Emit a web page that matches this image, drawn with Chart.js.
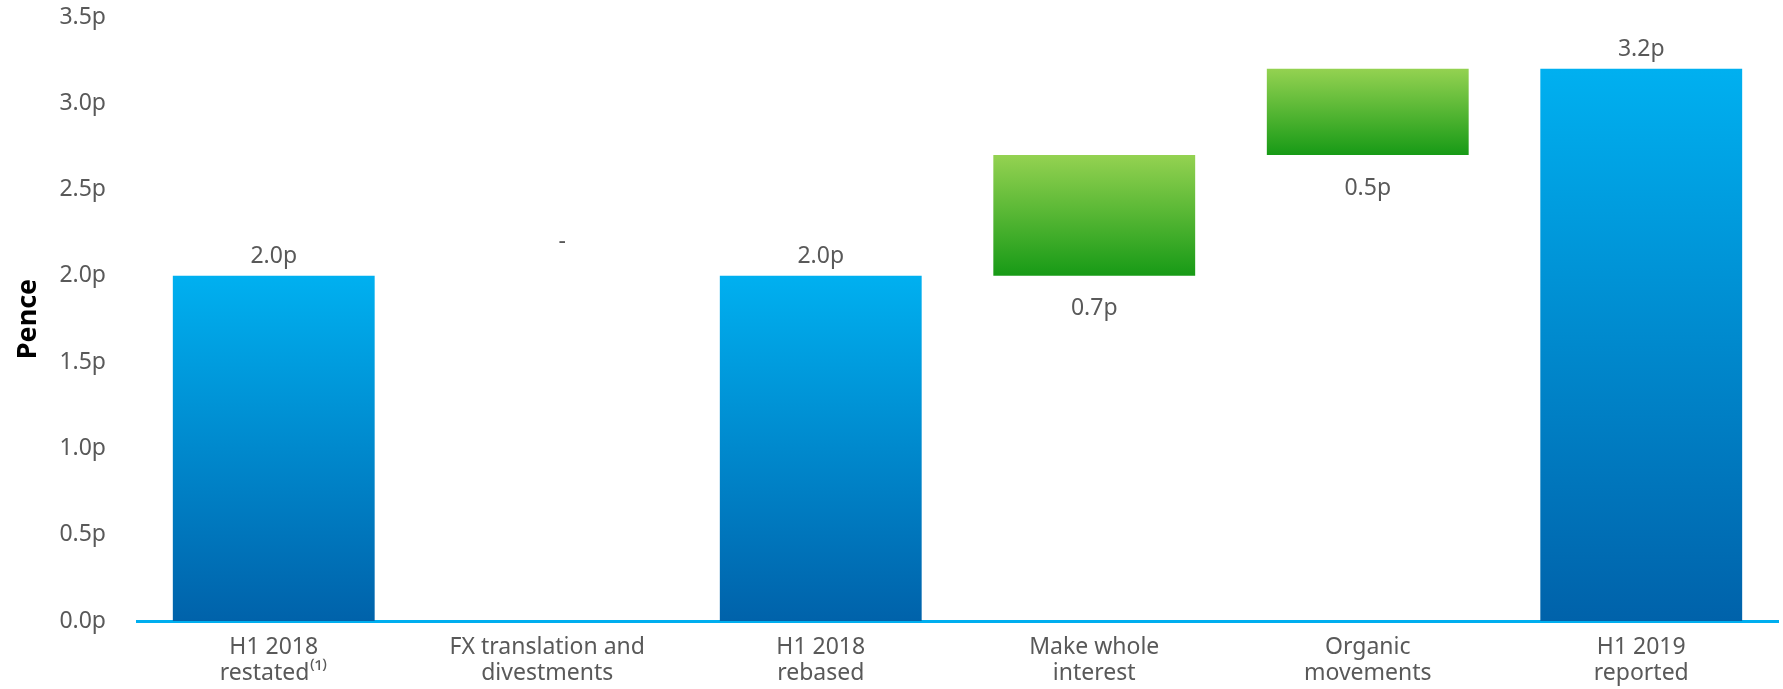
<!DOCTYPE html>
<html>
<head>
<meta charset="utf-8">
<script src="https://cdn.jsdelivr.net/npm/chart.js@4/dist/chart.umd.min.js"></script>
<style>
  html, body { margin: 0; padding: 0; background: #ffffff; }
  #wrap { width: 1783px; height: 689px; }
</style>
</head>
<body>
<div id="wrap"><canvas id="c" width="1783" height="689"></canvas></div>
<script>
// ---- data ----
const categories = [
  ["H1 2018", "restated\u207D\u00B9\u207E"],
  ["FX translation and", "divestments"],
  ["H1 2018", "rebased"],
  ["Make whole", "interest"],
  ["Organic", "movements"],
  ["H1 2019", "reported"]
];
const barStart = [0, 2.0, 0, 2.0, 2.7, 0];
const barEnd   = [2.0, 2.0, 2.0, 2.7, 3.2, 3.2];
const valueLabels = ["2.0p", "-", "2.0p", "0.7p", "0.5p", "3.2p"];
const labelSide = ["above", "above", "above", "below", "below", "above"];
const barKind = ["total", "change", "total", "change", "change", "total"];
const yTicks = [0, 0.5, 1.0, 1.5, 2.0, 2.5, 3.0, 3.5];
const yAxisTitle = "Pence";

const FONT = "'Noto Sans', 'Open Sans', sans-serif";
const TEXT = "#595959";

const palette = {
  total: ["#00B0F0", "#0062AA"],
  change: ["#94D251", "#179A16"]
};

function barColor(ctx) {
  const chart = ctx.chart;
  const i = ctx.dataIndex;
  const cols = palette[barKind[i]] || palette.total;
  if (!chart.chartArea || !chart.scales.y) return cols[0];
  const ys = chart.scales.y;
  const a = ys.getPixelForValue(Math.max(barStart[i], barEnd[i]));
  const b = ys.getPixelForValue(Math.min(barStart[i], barEnd[i]));
  if (!isFinite(a) || !isFinite(b) || Math.abs(b - a) < 1) return cols[0];
  const g = chart.ctx.createLinearGradient(0, a, 0, b);
  g.addColorStop(0, cols[0]);
  g.addColorStop(1, cols[1]);
  return g;
}

const valueLabelPlugin = {
  id: 'valueLabels',
  afterDatasetsDraw(chart) {
    const meta = chart.getDatasetMeta(0);
    const c = chart.ctx;
    c.save();
    c.font = "23px " + FONT;
    c.fillStyle = TEXT;
    c.textAlign = 'center';
    c.textBaseline = 'middle';
    meta.data.forEach((el, i) => {
      const top = Math.min(el.y, el.base);
      const bot = Math.max(el.y, el.base);
      let y;
      if (labelSide[i] === 'above') {
        y = top - (valueLabels[i] === '-' ? 34 : 19);
      } else {
        y = bot + 33;
      }
      const dx = valueLabels[i] === '-' ? 15 : 0;
      c.fillText(valueLabels[i], el.x + dx, y);
    });
    c.restore();
  }
};

new Chart(document.getElementById('c'), {
  type: 'bar',
  data: {
    labels: categories,
    datasets: [{
      data: barStart.map((s, i) => [s, barEnd[i]]),
      backgroundColor: barColor,
      borderWidth: 0,
      categoryPercentage: 1.0,
      barPercentage: 0.738
    }]
  },
  options: {
    responsive: false,
    animation: false,
    events: [],
    layout: { padding: { left: 0, right: 5, top: 0, bottom: 0 } },
    plugins: {
      legend: { display: false },
      tooltip: { enabled: false }
    },
    scales: {
      x: {
        grid: { display: false },
        border: { display: true, color: '#00AEEF', width: 3 },
        ticks: {
          color: TEXT,
          font: { family: FONT, size: 23, lineHeight: 1.15 },
          padding: 5,
          maxRotation: 0,
          autoSkip: false
        },
        afterFit(scale) { scale.height = 68; }
      },
      y: {
        min: 0,
        max: 3.5,
        afterBuildTicks(scale) { scale.ticks = yTicks.map(v => ({ value: v })); },
        grid: { display: false },
        border: { display: false },
        ticks: {
          color: TEXT,
          font: { family: FONT, size: 23 },
          padding: 23,
          callback: (v) => Number(v).toFixed(1) + 'p'
        },
        title: {
          display: true,
          text: yAxisTitle,
          color: '#000000',
          font: { family: FONT, size: 27, weight: 'bold' },
          padding: { top: 12, bottom: 0 }
        },
        afterFit(scale) {
          scale.width = 137;
          scale.paddingTop = 17;
          scale.paddingBottom = 0;
        }
      }
    }
  },
  plugins: [valueLabelPlugin]
});
</script>
</body>
</html>
